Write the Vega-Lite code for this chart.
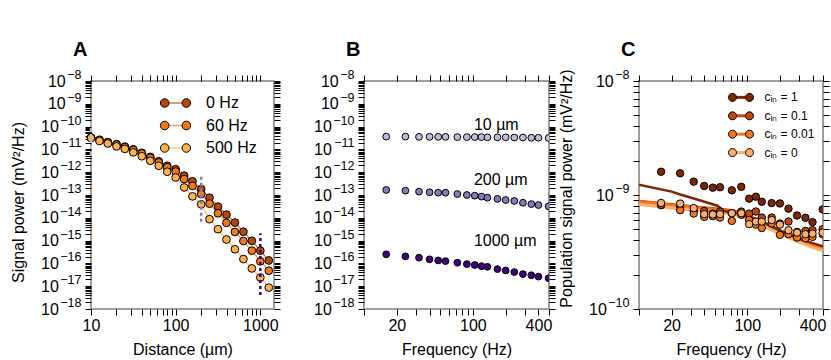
{
"$schema": "https://vega.github.io/schema/vega-lite/v6.json",
"padding": {"left": 9, "top": 38, "right": 5, "bottom": 0},
"spacing": 90,
"bounds": "flush",
"config": {
 "font": "Liberation Sans",
 "view": {"stroke": "#7f7f7f", "strokeWidth": 1.5},
 "axis": {"domain": false, "grid": false, "tickSize": 6, "tickColor": "black", "tickWidth": 1, "labelFont": "Liberation Sans", "labelFontSize": 16, "labelColor": "black", "titleFont": "Liberation Sans", "titleFontSize": 16, "titleFontWeight": "normal", "titleColor": "black", "labelFlush": false, "labelOverlap": false, "labelBound": false},
 "legend": {"padding": 0, "offset": 0, "labelFont": "Liberation Sans", "labelColor": "black"}
},
"resolve": {"scale": {"x": "independent", "y": "independent", "fill": "independent", "stroke": "independent", "color": "independent"}, "legend": {"fill": "independent", "stroke": "independent"}},
"datasets": {
 "aPts": [
  {"d":10,"s":"0 Hz","p":3.31e-11},{"d":12.6,"s":"0 Hz","p":2.63e-11},{"d":15.8,"s":"0 Hz","p":2.09e-11},{"d":20,"s":"0 Hz","p":1.70e-11},{"d":25.1,"s":"0 Hz","p":1.32e-11},{"d":31.6,"s":"0 Hz","p":1.0e-11},{"d":39.8,"s":"0 Hz","p":7.08e-12},{"d":50.1,"s":"0 Hz","p":4.68e-12},{"d":63.1,"s":"0 Hz","p":3.02e-12},{"d":79.4,"s":"0 Hz","p":1.91e-12},{"d":100,"s":"0 Hz","p":1.35e-12},{"d":126,"s":"0 Hz","p":7.08e-13},{"d":158,"s":"0 Hz","p":3.98e-13},{"d":200,"s":"0 Hz","p":1.82e-13},{"d":251,"s":"0 Hz","p":7.59e-14},{"d":316,"s":"0 Hz","p":3.09e-14},{"d":398,"s":"0 Hz","p":1.38e-14},{"d":501,"s":"0 Hz","p":6.17e-15},{"d":631,"s":"0 Hz","p":2.45e-15},{"d":794,"s":"0 Hz","p":9.77e-16},{"d":1000,"s":"0 Hz","p":3.63e-16},{"d":1259,"s":"0 Hz","p":1.35e-16},
  {"d":10,"s":"60 Hz","p":3.31e-11},{"d":12.6,"s":"60 Hz","p":2.57e-11},{"d":15.8,"s":"60 Hz","p":2.04e-11},{"d":20,"s":"60 Hz","p":1.62e-11},{"d":25.1,"s":"60 Hz","p":1.26e-11},{"d":31.6,"s":"60 Hz","p":9.55e-12},{"d":39.8,"s":"60 Hz","p":6.61e-12},{"d":50.1,"s":"60 Hz","p":4.27e-12},{"d":63.1,"s":"60 Hz","p":2.69e-12},{"d":79.4,"s":"60 Hz","p":1.66e-12},{"d":100,"s":"60 Hz","p":1.07e-12},{"d":126,"s":"60 Hz","p":5.01e-13},{"d":158,"s":"60 Hz","p":2.51e-13},{"d":200,"s":"60 Hz","p":1.10e-13},{"d":251,"s":"60 Hz","p":4.17e-14},{"d":316,"s":"60 Hz","p":1.58e-14},{"d":398,"s":"60 Hz","p":6.03e-15},{"d":501,"s":"60 Hz","p":2.40e-15},{"d":631,"s":"60 Hz","p":9.55e-16},{"d":794,"s":"60 Hz","p":3.63e-16},{"d":1000,"s":"60 Hz","p":1.23e-16},{"d":1259,"s":"60 Hz","p":4.79e-17},
  {"d":10,"s":"500 Hz","p":3.16e-11},{"d":12.6,"s":"500 Hz","p":2.34e-11},{"d":15.8,"s":"500 Hz","p":1.82e-11},{"d":20,"s":"500 Hz","p":1.35e-11},{"d":25.1,"s":"500 Hz","p":1.05e-11},{"d":31.6,"s":"500 Hz","p":7.41e-12},{"d":39.8,"s":"500 Hz","p":5.01e-12},{"d":50.1,"s":"500 Hz","p":3.16e-12},{"d":63.1,"s":"500 Hz","p":1.91e-12},{"d":79.4,"s":"500 Hz","p":1.05e-12},{"d":100,"s":"500 Hz","p":5.89e-13},{"d":126,"s":"500 Hz","p":2.14e-13},{"d":158,"s":"500 Hz","p":8.71e-14},{"d":200,"s":"500 Hz","p":3.89e-14},{"d":251,"s":"500 Hz","p":8.71e-15},{"d":316,"s":"500 Hz","p":3.16e-15},{"d":398,"s":"500 Hz","p":1.12e-15},{"d":501,"s":"500 Hz","p":4.17e-16},{"d":631,"s":"500 Hz","p":1.55e-16},{"d":794,"s":"500 Hz","p":6.03e-17},{"d":1000,"s":"500 Hz","p":2.40e-17},{"d":1259,"s":"500 Hz","p":8.71e-18}
 ],
 "aRules": [
  {"d":10,"lo":5.75e-12,"hi":2.0e-10,"g":"10 µm"},
  {"d":200,"lo":6.76e-15,"hi":7.08e-13,"g":"200 µm"},
  {"d":1000,"lo":4.07e-18,"hi":2.09e-15,"g":"1000 µm"}
 ],
 "bPts": [
  {"f":16,"dist":"10 µm","p":3.63e-11},{"f":24,"dist":"10 µm","p":3.63e-11},{"f":32,"dist":"10 µm","p":3.55e-11},{"f":40,"dist":"10 µm","p":3.55e-11},{"f":48,"dist":"10 µm","p":3.55e-11},{"f":56,"dist":"10 µm","p":3.55e-11},{"f":72,"dist":"10 µm","p":3.47e-11},{"f":88,"dist":"10 µm","p":3.47e-11},{"f":104,"dist":"10 µm","p":3.47e-11},{"f":120,"dist":"10 µm","p":3.47e-11},{"f":136,"dist":"10 µm","p":3.39e-11},{"f":168,"dist":"10 µm","p":3.39e-11},{"f":200,"dist":"10 µm","p":3.39e-11},{"f":240,"dist":"10 µm","p":3.31e-11},{"f":288,"dist":"10 µm","p":3.31e-11},{"f":344,"dist":"10 µm","p":3.24e-11},{"f":400,"dist":"10 µm","p":3.24e-11},{"f":496,"dist":"10 µm","p":3.16e-11},
  {"f":16,"dist":"200 µm","p":1.66e-13},{"f":24,"dist":"200 µm","p":1.55e-13},{"f":32,"dist":"200 µm","p":1.41e-13},{"f":40,"dist":"200 µm","p":1.32e-13},{"f":48,"dist":"200 µm","p":1.26e-13},{"f":56,"dist":"200 µm","p":1.26e-13},{"f":72,"dist":"200 µm","p":1.10e-13},{"f":88,"dist":"200 µm","p":1.0e-13},{"f":104,"dist":"200 µm","p":9.33e-14},{"f":120,"dist":"200 µm","p":8.51e-14},{"f":136,"dist":"200 µm","p":7.59e-14},{"f":168,"dist":"200 µm","p":6.76e-14},{"f":200,"dist":"200 µm","p":6.03e-14},{"f":240,"dist":"200 µm","p":5.50e-14},{"f":288,"dist":"200 µm","p":4.57e-14},{"f":344,"dist":"200 µm","p":3.98e-14},{"f":400,"dist":"200 µm","p":3.63e-14},{"f":496,"dist":"200 µm","p":3.16e-14},
  {"f":16,"dist":"1000 µm","p":2.51e-16},{"f":24,"dist":"1000 µm","p":2.04e-16},{"f":32,"dist":"1000 µm","p":1.78e-16},{"f":40,"dist":"1000 µm","p":1.51e-16},{"f":48,"dist":"1000 µm","p":1.35e-16},{"f":56,"dist":"1000 µm","p":1.26e-16},{"f":72,"dist":"1000 µm","p":1.07e-16},{"f":88,"dist":"1000 µm","p":9.33e-17},{"f":104,"dist":"1000 µm","p":8.51e-17},{"f":120,"dist":"1000 µm","p":7.59e-17},{"f":136,"dist":"1000 µm","p":7.08e-17},{"f":168,"dist":"1000 µm","p":5.62e-17},{"f":200,"dist":"1000 µm","p":4.90e-17},{"f":240,"dist":"1000 µm","p":4.17e-17},{"f":288,"dist":"1000 µm","p":3.39e-17},{"f":344,"dist":"1000 µm","p":3.02e-17},{"f":400,"dist":"1000 µm","p":2.63e-17},{"f":496,"dist":"1000 µm","p":2.24e-17}
 ],
 "bLab": [
  {"f":100,"p":1.12e-10,"t":"10 µm"},
  {"f":100,"p":4.57e-13,"t":"200 µm"},
  {"f":100,"p":9.33e-16,"t":"1000 µm"}
 ],
 "cPts": [
  {"f":16,"c":"1","p":1.60e-9},{"f":24,"c":"1","p":1.55e-9},{"f":32,"c":"1","p":1.31e-9},{"f":40,"c":"1","p":1.20e-9},{"f":48,"c":"1","p":1.16e-9},{"f":56,"c":"1","p":1.17e-9},{"f":72,"c":"1","p":1.10e-9},{"f":88,"c":"1","p":1.18e-9},{"f":104,"c":"1","p":9.29e-10},{"f":120,"c":"1","p":9.66e-10},{"f":136,"c":"1","p":8.73e-10},{"f":168,"c":"1","p":8.49e-10},{"f":200,"c":"1","p":8.43e-10},{"f":240,"c":"1","p":7.59e-10},{"f":288,"c":"1","p":6.61e-10},{"f":344,"c":"1","p":6.31e-10},{"f":400,"c":"1","p":5.78e-10},{"f":496,"c":"1","p":7.48e-10},
  {"f":16,"c":"0.1","p":8.13e-10},{"f":24,"c":"0.1","p":7.87e-10},{"f":32,"c":"0.1","p":7.24e-10},{"f":40,"c":"0.1","p":7.24e-10},{"f":48,"c":"0.1","p":6.87e-10},{"f":56,"c":"0.1","p":7.16e-10},{"f":72,"c":"0.1","p":6.93e-10},{"f":88,"c":"0.1","p":7.16e-10},{"f":104,"c":"0.1","p":6.87e-10},{"f":120,"c":"0.1","p":7.16e-10},{"f":136,"c":"0.1","p":6.34e-10},{"f":168,"c":"0.1","p":6.34e-10},{"f":200,"c":"0.1","p":5.62e-10},{"f":240,"c":"0.1","p":5.85e-10},{"f":288,"c":"0.1","p":4.74e-10},{"f":344,"c":"0.1","p":4.84e-10},{"f":400,"c":"0.1","p":4.91e-10},{"f":496,"c":"0.1","p":5.01e-10},
  {"f":16,"c":"0.01","p":8.22e-10},{"f":24,"c":"0.01","p":7.36e-10},{"f":32,"c":"0.01","p":6.87e-10},{"f":40,"c":"0.01","p":6.43e-10},{"f":48,"c":"0.01","p":6.52e-10},{"f":56,"c":"0.01","p":6.34e-10},{"f":72,"c":"0.01","p":5.93e-10},{"f":88,"c":"0.01","p":6.70e-10},{"f":104,"c":"0.01","p":6.03e-10},{"f":120,"c":"0.01","p":5.50e-10},{"f":136,"c":"0.01","p":5.13e-10},{"f":168,"c":"0.01","p":5.62e-10},{"f":200,"c":"0.01","p":4.47e-10},{"f":240,"c":"0.01","p":4.53e-10},{"f":288,"c":"0.01","p":4.23e-10},{"f":344,"c":"0.01","p":4.17e-10},{"f":400,"c":"0.01","p":4.29e-10},{"f":496,"c":"0.01","p":4.53e-10},
  {"f":16,"c":"0","p":8.51e-10},{"f":24,"c":"0","p":8.41e-10},{"f":32,"c":"0","p":7.67e-10},{"f":40,"c":"0","p":6.79e-10},{"f":48,"c":"0","p":6.76e-10},{"f":56,"c":"0","p":6.79e-10},{"f":72,"c":"0","p":6.92e-10},{"f":88,"c":"0","p":6.92e-10},{"f":104,"c":"0","p":5.55e-10},{"f":120,"c":"0","p":5.85e-10},{"f":136,"c":"0","p":5.85e-10},{"f":168,"c":"0","p":6.03e-10},{"f":200,"c":"0","p":5.50e-10},{"f":240,"c":"0","p":4.91e-10},{"f":288,"c":"0","p":4.68e-10},{"f":344,"c":"0","p":4.53e-10},{"f":400,"c":"0","p":4.58e-10},{"f":496,"c":"0","p":4.68e-10}
 ],
 "cLines": [
  {"f":10,"c":"1","p":1.23e-9},{"f":20,"c":"1","p":1.07e-9},{"f":24,"c":"1","p":1.01e-9},{"f":32,"c":"1","p":9.33e-10},{"f":53,"c":"1","p":8.05e-10},{"f":61,"c":"1","p":7.24e-10},{"f":80,"c":"1","p":6.92e-10},{"f":130,"c":"1","p":5.93e-10},{"f":200,"c":"1","p":4.90e-10},{"f":300,"c":"1","p":4.12e-10},{"f":460,"c":"1","p":3.63e-10},{"f":500,"c":"1","p":3.55e-10},
  {"f":10,"c":"0.1","p":8.87e-10},{"f":20,"c":"0.1","p":8.28e-10},{"f":32,"c":"0.1","p":7.91e-10},{"f":50,"c":"0.1","p":7.63e-10},{"f":68,"c":"0.1","p":7.38e-10},{"f":80,"c":"0.1","p":7.21e-10},{"f":138,"c":"0.1","p":5.86e-10},{"f":197,"c":"0.1","p":4.93e-10},{"f":278,"c":"0.1","p":4.30e-10},{"f":396,"c":"0.1","p":3.74e-10},{"f":500,"c":"0.1","p":3.49e-10},
  {"f":10,"c":"0.01","p":8.75e-10},{"f":20,"c":"0.01","p":8.17e-10},{"f":32,"c":"0.01","p":7.80e-10},{"f":50,"c":"0.01","p":7.53e-10},{"f":68,"c":"0.01","p":7.28e-10},{"f":80,"c":"0.01","p":7.11e-10},{"f":138,"c":"0.01","p":5.78e-10},{"f":197,"c":"0.01","p":4.86e-10},{"f":278,"c":"0.01","p":4.24e-10},{"f":396,"c":"0.01","p":3.69e-10},{"f":500,"c":"0.01","p":3.44e-10},
  {"f":10,"c":"0","p":8.51e-10},{"f":20,"c":"0","p":7.94e-10},{"f":32,"c":"0","p":7.59e-10},{"f":50,"c":"0","p":7.33e-10},{"f":68,"c":"0","p":7.08e-10},{"f":80,"c":"0","p":6.92e-10},{"f":138,"c":"0","p":5.62e-10},{"f":197,"c":"0","p":4.73e-10},{"f":278,"c":"0","p":4.12e-10},{"f":396,"c":"0","p":3.59e-10},{"f":500,"c":"0","p":3.35e-10}
 ]
},
"hconcat": [
 {
  "width": 183, "height": 228,
  "title": {"text": "A", "anchor": "start", "frame": "group", "fontSize": 20, "fontWeight": "bold", "font": "Liberation Sans", "dx": -18, "baseline": "alphabetic", "offset": -7, "color": "black"},
  "resolve": {"axis": {"x": "independent", "y": "independent"}},
  "layer": [
   {
    "data": {"name": "aPts"},
    "mark": {"type": "line", "strokeWidth": 1.5, "opacity": 0.7},
    "encoding": {
     "x": {"field": "d", "type": "quantitative", "scale": {"type": "log", "domain": [10, 1450], "nice": false},
      "axis": {"orient": "bottom", "values": [10,20,30,40,50,60,70,80,90,100,200,300,400,500,600,700,800,900,1000], "labelExpr": "indexof([10,100,1000], datum.value) >= 0 ? '' + datum.value : ''", "labelBaseline": "alphabetic", "labelPadding": 15, "title": "Distance (µm)", "titleBaseline": "alphabetic", "titleY": 45,
       "encode": {"ticks": {"update": {"y2": {"signal": "abs(log(datum.value)/LN10 - round(log(datum.value)/LN10)) < 0.001 ? -6 : -3"}}}}}},
     "y": {"field": "p", "type": "quantitative", "scale": {"type": "log", "domain": [1e-18, 1e-8], "nice": false},
      "axis": {"orient": "left", "values": [1e-18,2e-18,3e-18,4e-18,5e-18,6e-18,7e-18,8e-18,9e-18,1e-17,2e-17,3e-17,4e-17,5e-17,6e-17,7e-17,8e-17,9e-17,1e-16,2e-16,3e-16,4e-16,5e-16,6e-16,7e-16,8e-16,9e-16,1e-15,2e-15,3e-15,4e-15,5e-15,6e-15,7e-15,8e-15,9e-15,1e-14,2e-14,3e-14,4e-14,5e-14,6e-14,7e-14,8e-14,9e-14,1e-13,2e-13,3e-13,4e-13,5e-13,6e-13,7e-13,8e-13,9e-13,1e-12,2e-12,3e-12,4e-12,5e-12,6e-12,7e-12,8e-12,9e-12,1e-11,2e-11,3e-11,4e-11,5e-11,6e-11,7e-11,8e-11,9e-11,1e-10,2e-10,3e-10,4e-10,5e-10,6e-10,7e-10,8e-10,9e-10,1e-9,2e-9,3e-9,4e-9,5e-9,6e-9,7e-9,8e-9,9e-9,1e-8],
       "labelExpr": "abs(log(datum.value)/LN10 - round(log(datum.value)/LN10)) < 0.001 && round(-log(datum.value)/LN10) >= 10 ? '10' : ''",
       "labelPadding": 26.7, "labelBaseline": "middle", "title": "Signal power (mV²/Hz)", "titleX": -73, "titleY": 121, "titleBaseline": "middle",
       "encode": {"ticks": {"update": {"x2": {"signal": "abs(log(datum.value)/LN10 - round(log(datum.value)/LN10)) < 0.001 ? 6 : 3"}}}}}},
     "stroke": {"field": "s", "type": "nominal", "scale": {"domain": ["0 Hz", "60 Hz", "500 Hz"], "range": ["#b5470b", "#f07a1c", "#fdb24a"]},
      "legend": {"orient": "none", "legendX": 76.5, "legendY": 14, "title": null, "symbolType": "M -1.31,0 L 1.31,0", "symbolSize": 100, "symbolStrokeWidth": 1.5, "labelFontSize": 16, "labelOffset": 22.5, "rowPadding": 6.5}}
    }
   },
   {
    "data": {"name": "aPts"},
    "mark": {"type": "circle", "size": 60, "stroke": "black", "strokeWidth": 1, "opacity": 1},
    "encoding": {
     "x": {"field": "d", "type": "quantitative", "scale": {"type": "log", "domain": [10, 1450], "nice": false},
      "axis": {"orient": "top", "values": [10,20,30,40,50,60,70,80,90,100,200,300,400,500,600,700,800,900,1000], "labels": false, "title": null,
       "encode": {"ticks": {"update": {"y2": {"signal": "abs(log(datum.value)/LN10 - round(log(datum.value)/LN10)) < 0.001 ? 6 : 3"}}}}}},
     "y": {"field": "p", "type": "quantitative", "scale": {"type": "log", "domain": [1e-18, 1e-8], "nice": false},
      "axis": {"orient": "right", "values": [1e-18,2e-18,3e-18,4e-18,5e-18,6e-18,7e-18,8e-18,9e-18,1e-17,2e-17,3e-17,4e-17,5e-17,6e-17,7e-17,8e-17,9e-17,1e-16,2e-16,3e-16,4e-16,5e-16,6e-16,7e-16,8e-16,9e-16,1e-15,2e-15,3e-15,4e-15,5e-15,6e-15,7e-15,8e-15,9e-15,1e-14,2e-14,3e-14,4e-14,5e-14,6e-14,7e-14,8e-14,9e-14,1e-13,2e-13,3e-13,4e-13,5e-13,6e-13,7e-13,8e-13,9e-13,1e-12,2e-12,3e-12,4e-12,5e-12,6e-12,7e-12,8e-12,9e-12,1e-11,2e-11,3e-11,4e-11,5e-11,6e-11,7e-11,8e-11,9e-11,1e-10,2e-10,3e-10,4e-10,5e-10,6e-10,7e-10,8e-10,9e-10,1e-9,2e-9,3e-9,4e-9,5e-9,6e-9,7e-9,8e-9,9e-9,1e-8], "labels": false, "title": null,
       "encode": {"ticks": {"update": {"x2": {"signal": "abs(log(datum.value)/LN10 - round(log(datum.value)/LN10)) < 0.001 ? -6 : -3"}}}}}},
     "fill": {"field": "s", "type": "nominal", "sort": ["0 Hz", "60 Hz", "500 Hz"], "scale": {"range": ["#b5470b", "#f07a1c", "#fdb24a"]},
      "legend": {"orient": "none", "legendX": 76.5, "legendY": 14, "title": null, "symbolType": "M -3.03,0 A 0.86,0.86 0 1,1 -1.31,0 A 0.86,0.86 0 1,1 -3.03,0 Z M 1.31,0 A 0.86,0.86 0 1,1 3.03,0 A 0.86,0.86 0 1,1 1.31,0 Z", "symbolSize": 100, "symbolStrokeColor": "black", "symbolStrokeWidth": 1, "symbolOpacity": 1, "labelFontSize": 16, "labelOffset": 22.5, "rowPadding": 6.5, "labelOpacity": 0}}
    }
   },
   {
    "data": {"name": "aRules"},
    "transform": [{"filter": "datum.d != 1000"}],
    "mark": {"type": "rule", "strokeDash": [3, 3], "strokeWidth": 2.5},
    "encoding": {
     "x": {"field": "d", "type": "quantitative", "scale": {"type": "log", "domain": [10, 1450], "nice": false}, "axis": null},
     "y": {"field": "lo", "type": "quantitative", "scale": {"type": "log", "domain": [1e-18, 1e-8], "nice": false},
      "axis": {"orient": "left", "values": [1e-18,1e-17,1e-16,1e-15,1e-14,1e-13,1e-12,1e-11,1e-10,1e-9,1e-8], "labelExpr": "'−' + round(-log(datum.value)/LN10)", "labelFontSize": 12.5, "labelPadding": 4, "labelOffset": -6.5, "labelBaseline": "middle", "tickOpacity": 0, "title": null}},
     "y2": {"field": "hi"},
     "color": {"field": "g", "type": "nominal", "scale": {"domain": ["10 µm", "200 µm", "1000 µm"], "range": ["#bcbddc", "#807dba", "#3f007d"]}, "legend": null}
    }
   },
   {
    "data": {"name": "aRules"},
    "transform": [{"filter": "datum.d == 1000"}],
    "mark": {"type": "rule", "strokeDash": [3, 3], "strokeWidth": 2.5},
    "encoding": {
     "x": {"field": "d", "type": "quantitative", "scale": {"type": "log", "domain": [10, 1450], "nice": false}, "axis": null},
     "y": {"field": "lo", "type": "quantitative", "scale": {"type": "log", "domain": [1e-18, 1e-8], "nice": false},
      "axis": {"orient": "left", "values": [1e-9, 1e-8], "labelExpr": "'10'", "labelPadding": 19.75, "labelBaseline": "middle", "tickOpacity": 0, "title": null}},
     "y2": {"field": "hi"},
     "color": {"field": "g", "type": "nominal", "scale": {"domain": ["10 µm", "200 µm", "1000 µm"], "range": ["#bcbddc", "#807dba", "#3f007d"]}, "legend": null}
    }
   }
  ]
 },
 {
  "width": 185, "height": 228,
  "title": {"text": "B", "anchor": "start", "frame": "group", "fontSize": 20, "fontWeight": "bold", "font": "Liberation Sans", "dx": -18, "baseline": "alphabetic", "offset": -7, "color": "black"},
  "resolve": {"axis": {"x": "independent", "y": "independent"}},
  "layer": [
   {
    "data": {"name": "bPts"},
    "transform": [{"filter": "datum.dist != '1000 µm'"}],
    "mark": {"type": "circle", "size": 46, "stroke": "black", "strokeWidth": 1, "opacity": 1, "clip": true},
    "encoding": {
     "x": {"field": "f", "type": "quantitative", "scale": {"type": "log", "domain": [10, 500], "nice": false},
      "axis": {"orient": "bottom", "values": [10,20,30,40,50,60,70,80,90,100,200,300,400,500], "labelExpr": "indexof([20,100,400], datum.value) >= 0 ? '' + datum.value : ''", "labelBaseline": "alphabetic", "labelPadding": 15, "title": "Frequency (Hz)", "titleBaseline": "alphabetic", "titleY": 45,
       "encode": {"ticks": {"update": {"y2": {"signal": "abs(log(datum.value)/LN10 - round(log(datum.value)/LN10)) < 0.001 ? -6 : -3"}}}}}},
     "y": {"field": "p", "type": "quantitative", "scale": {"type": "log", "domain": [1e-18, 1e-8], "nice": false},
      "axis": {"orient": "left", "values": [1e-18,2e-18,3e-18,4e-18,5e-18,6e-18,7e-18,8e-18,9e-18,1e-17,2e-17,3e-17,4e-17,5e-17,6e-17,7e-17,8e-17,9e-17,1e-16,2e-16,3e-16,4e-16,5e-16,6e-16,7e-16,8e-16,9e-16,1e-15,2e-15,3e-15,4e-15,5e-15,6e-15,7e-15,8e-15,9e-15,1e-14,2e-14,3e-14,4e-14,5e-14,6e-14,7e-14,8e-14,9e-14,1e-13,2e-13,3e-13,4e-13,5e-13,6e-13,7e-13,8e-13,9e-13,1e-12,2e-12,3e-12,4e-12,5e-12,6e-12,7e-12,8e-12,9e-12,1e-11,2e-11,3e-11,4e-11,5e-11,6e-11,7e-11,8e-11,9e-11,1e-10,2e-10,3e-10,4e-10,5e-10,6e-10,7e-10,8e-10,9e-10,1e-9,2e-9,3e-9,4e-9,5e-9,6e-9,7e-9,8e-9,9e-9,1e-8],
       "labelExpr": "abs(log(datum.value)/LN10 - round(log(datum.value)/LN10)) < 0.001 && round(-log(datum.value)/LN10) >= 10 ? '10' : ''",
       "labelPadding": 26.7, "labelBaseline": "middle", "title": null,
       "encode": {"ticks": {"update": {"x2": {"signal": "abs(log(datum.value)/LN10 - round(log(datum.value)/LN10)) < 0.001 ? 6 : 3"}}}}}},
     "fill": {"field": "dist", "type": "nominal", "scale": {"domain": ["10 µm", "200 µm", "1000 µm"], "range": ["#bcbddc", "#807dba", "#3f007d"]}, "legend": null}
    }
   },
   {
    "data": {"name": "bPts"},
    "transform": [{"filter": "datum.dist == '1000 µm'"}],
    "mark": {"type": "circle", "size": 46, "stroke": "black", "strokeWidth": 1, "opacity": 1, "clip": true},
    "encoding": {
     "x": {"field": "f", "type": "quantitative", "scale": {"type": "log", "domain": [10, 500], "nice": false}, "axis": null},
     "y": {"field": "p", "type": "quantitative", "scale": {"type": "log", "domain": [1e-18, 1e-8], "nice": false},
      "axis": {"orient": "left", "values": [1e-18,1e-17,1e-16,1e-15,1e-14,1e-13,1e-12,1e-11,1e-10,1e-9,1e-8], "labelExpr": "'−' + round(-log(datum.value)/LN10)", "labelFontSize": 12.5, "labelPadding": 4, "labelOffset": -6.5, "labelBaseline": "middle", "tickOpacity": 0, "title": null}},
     "fill": {"field": "dist", "type": "nominal", "scale": {"domain": ["10 µm", "200 µm", "1000 µm"], "range": ["#bcbddc", "#807dba", "#3f007d"]}, "legend": null}
    }
   },
   {
    "data": {"name": "bLab"},
    "transform": [{"filter": "datum.t == '10 µm'"}],
    "mark": {"type": "text", "align": "left", "baseline": "middle", "fontSize": 16, "font": "Liberation Sans", "color": "black", "dx": 1},
    "encoding": {
     "x": {"field": "f", "type": "quantitative", "scale": {"type": "log", "domain": [10, 500], "nice": false},
      "axis": {"orient": "top", "values": [10,20,30,40,50,60,70,80,90,100,200,300,400,500], "labels": false, "title": null,
       "encode": {"ticks": {"update": {"y2": {"signal": "abs(log(datum.value)/LN10 - round(log(datum.value)/LN10)) < 0.001 ? 6 : 3"}}}}}},
     "y": {"field": "p", "type": "quantitative", "scale": {"type": "log", "domain": [1e-18, 1e-8], "nice": false},
      "axis": {"orient": "right", "values": [1e-18,2e-18,3e-18,4e-18,5e-18,6e-18,7e-18,8e-18,9e-18,1e-17,2e-17,3e-17,4e-17,5e-17,6e-17,7e-17,8e-17,9e-17,1e-16,2e-16,3e-16,4e-16,5e-16,6e-16,7e-16,8e-16,9e-16,1e-15,2e-15,3e-15,4e-15,5e-15,6e-15,7e-15,8e-15,9e-15,1e-14,2e-14,3e-14,4e-14,5e-14,6e-14,7e-14,8e-14,9e-14,1e-13,2e-13,3e-13,4e-13,5e-13,6e-13,7e-13,8e-13,9e-13,1e-12,2e-12,3e-12,4e-12,5e-12,6e-12,7e-12,8e-12,9e-12,1e-11,2e-11,3e-11,4e-11,5e-11,6e-11,7e-11,8e-11,9e-11,1e-10,2e-10,3e-10,4e-10,5e-10,6e-10,7e-10,8e-10,9e-10,1e-9,2e-9,3e-9,4e-9,5e-9,6e-9,7e-9,8e-9,9e-9,1e-8], "labels": false, "title": null,
       "encode": {"ticks": {"update": {"x2": {"signal": "abs(log(datum.value)/LN10 - round(log(datum.value)/LN10)) < 0.001 ? -6 : -3"}}}}}},
     "text": {"field": "t"}
    }
   },
   {
    "data": {"name": "bLab"},
    "transform": [{"filter": "datum.t != '10 µm'"}],
    "mark": {"type": "text", "align": "left", "baseline": "middle", "fontSize": 16, "font": "Liberation Sans", "color": "black", "dx": 1},
    "encoding": {
     "x": {"field": "f", "type": "quantitative", "scale": {"type": "log", "domain": [10, 500], "nice": false}, "axis": null},
     "y": {"field": "p", "type": "quantitative", "scale": {"type": "log", "domain": [1e-18, 1e-8], "nice": false},
      "axis": {"orient": "left", "values": [1e-9, 1e-8], "labelExpr": "'10'", "labelPadding": 19.75, "labelBaseline": "middle", "tickOpacity": 0, "title": null}},
     "text": {"field": "t"}
    }
   }
  ]
 },
 {
  "width": 184, "height": 228,
  "title": {"text": "C", "anchor": "start", "frame": "group", "fontSize": 20, "fontWeight": "bold", "font": "Liberation Sans", "dx": -18, "baseline": "alphabetic", "offset": -7, "color": "black"},
  "resolve": {"axis": {"x": "independent", "y": "independent"}},
  "layer": [
   {
    "data": {"name": "cLines"},
    "transform": [{"filter": "datum.c == '0'"}],
    "mark": {"type": "line", "strokeWidth": 6, "clip": true},
    "encoding": {
     "x": {"field": "f", "type": "quantitative", "scale": {"type": "log", "domain": [10, 500], "nice": false},
      "axis": {"orient": "bottom", "values": [10,20,30,40,50,60,70,80,90,100,200,300,400,500], "labelExpr": "indexof([20,100,400], datum.value) >= 0 ? '' + datum.value : ''", "labelBaseline": "alphabetic", "labelPadding": 15, "title": "Frequency (Hz)", "titleBaseline": "alphabetic", "titleY": 45,
       "encode": {"ticks": {"update": {"y2": {"signal": "abs(log(datum.value)/LN10 - round(log(datum.value)/LN10)) < 0.001 ? -6 : -3"}}}}}},
     "y": {"field": "p", "type": "quantitative", "scale": {"type": "log", "domain": [1e-10, 1e-8], "nice": false},
      "axis": {"orient": "left", "values": [1e-10,2e-10,3e-10,4e-10,5e-10,6e-10,7e-10,8e-10,9e-10,1e-9,2e-9,3e-9,4e-9,5e-9,6e-9,7e-9,8e-9,9e-9,1e-8],
       "labelExpr": "abs(log(datum.value)/LN10 - round(log(datum.value)/LN10)) < 0.001 && round(-log(datum.value)/LN10) >= 10 ? '10' : ''",
       "labelPadding": 26.7, "labelBaseline": "middle", "title": "Population signal power (mV²/Hz)", "titleX": -73, "titleY": 107, "titleBaseline": "middle",
       "encode": {"ticks": {"update": {"x2": {"signal": "abs(log(datum.value)/LN10 - round(log(datum.value)/LN10)) < 0.001 ? 6 : 3"}}}}}},
     "stroke": {"field": "c", "type": "nominal", "scale": {"domain": ["1", "0.1", "0.01", "0"], "range": ["#7f2704", "#c2470a", "#f3761b", "#fdae6b"]},
      "legend": {"orient": "none", "legendX": 96, "legendY": 10.4, "title": null, "symbolType": "M -1.125,0 L 1.125,0", "symbolSize": 64, "symbolStrokeWidth": 3, "labelFontSize": 12, "labelOffset": 17.4, "rowPadding": 6.4, "labelExpr": "'cᵢₙ = ' + datum.label"}}
    }
   },
   {
    "data": {"name": "cLines"},
    "transform": [{"filter": "datum.c == '0.1' || datum.c == '0.01'"}],
    "mark": {"type": "line", "strokeWidth": 2.5, "clip": true},
    "encoding": {
     "x": {"field": "f", "type": "quantitative", "scale": {"type": "log", "domain": [10, 500], "nice": false}, "axis": null},
     "y": {"field": "p", "type": "quantitative", "scale": {"type": "log", "domain": [1e-10, 1e-8], "nice": false},
      "axis": {"orient": "left", "values": [1e-9, 1e-8], "labelExpr": "'10'", "labelPadding": 19.75, "labelBaseline": "middle", "tickOpacity": 0, "title": null}},
     "stroke": {"field": "c", "type": "nominal", "scale": {"domain": ["1", "0.1", "0.01", "0"], "range": ["#7f2704", "#c2470a", "#f3761b", "#fdae6b"]},
      "legend": {"orient": "none", "legendX": 96, "legendY": 10.4, "title": null, "symbolType": "M -1.125,0 L 1.125,0", "symbolSize": 64, "symbolStrokeWidth": 3, "labelFontSize": 12, "labelOffset": 17.4, "rowPadding": 6.4, "labelExpr": "'cᵢₙ = ' + datum.label"}}
    }
   },
   {
    "data": {"name": "cLines"},
    "transform": [{"filter": "datum.c == '1'"}],
    "mark": {"type": "line", "strokeWidth": 2.5, "clip": true},
    "encoding": {
     "x": {"field": "f", "type": "quantitative", "scale": {"type": "log", "domain": [10, 500], "nice": false}, "axis": null},
     "y": {"field": "p", "type": "quantitative", "scale": {"type": "log", "domain": [1e-10, 1e-8], "nice": false},
      "axis": {"orient": "left", "values": [1e-10,1e-9,1e-8], "labelExpr": "'−' + round(-log(datum.value)/LN10)", "labelFontSize": 12.5, "labelPadding": 4, "labelOffset": -6.5, "labelBaseline": "middle", "tickOpacity": 0, "title": null}},
     "stroke": {"field": "c", "type": "nominal", "scale": {"domain": ["1", "0.1", "0.01", "0"], "range": ["#7f2704", "#c2470a", "#f3761b", "#fdae6b"]},
      "legend": {"orient": "none", "legendX": 96, "legendY": 10.4, "title": null, "symbolType": "M -1.125,0 L 1.125,0", "symbolSize": 64, "symbolStrokeWidth": 3, "labelFontSize": 12, "labelOffset": 17.4, "rowPadding": 6.4, "labelExpr": "'cᵢₙ = ' + datum.label"}}
    }
   },
   {
    "data": {"name": "cPts"},
    "mark": {"type": "circle", "size": 55, "stroke": "black", "strokeWidth": 1, "opacity": 1, "clip": true},
    "encoding": {
     "x": {"field": "f", "type": "quantitative", "scale": {"type": "log", "domain": [10, 500], "nice": false},
      "axis": {"orient": "top", "values": [10,20,30,40,50,60,70,80,90,100,200,300,400,500], "labels": false, "title": null,
       "encode": {"ticks": {"update": {"y2": {"signal": "abs(log(datum.value)/LN10 - round(log(datum.value)/LN10)) < 0.001 ? 6 : 3"}}}}}},
     "y": {"field": "p", "type": "quantitative", "scale": {"type": "log", "domain": [1e-10, 1e-8], "nice": false},
      "axis": {"orient": "right", "values": [1e-10,2e-10,3e-10,4e-10,5e-10,6e-10,7e-10,8e-10,9e-10,1e-9,2e-9,3e-9,4e-9,5e-9,6e-9,7e-9,8e-9,9e-9,1e-8], "labels": false, "title": null,
       "encode": {"ticks": {"update": {"x2": {"signal": "abs(log(datum.value)/LN10 - round(log(datum.value)/LN10)) < 0.001 ? -6 : -3"}}}}}},
     "fill": {"field": "c", "type": "nominal", "sort": ["1", "0.1", "0.01", "0"], "scale": {"range": ["#7f2704", "#c2470a", "#f3761b", "#fdae6b"]},
      "legend": {"orient": "none", "legendX": 96, "legendY": 10.4, "title": null, "symbolType": "M -3.125,0 A 1,1 0 1,1 -1.125,0 A 1,1 0 1,1 -3.125,0 Z M 1.125,0 A 1,1 0 1,1 3.125,0 A 1,1 0 1,1 1.125,0 Z", "symbolSize": 64, "symbolStrokeColor": "black", "symbolStrokeWidth": 1, "symbolOpacity": 1, "labelFontSize": 12, "labelOffset": 17.4, "rowPadding": 6.4, "labelOpacity": 0, "labelExpr": "'cᵢₙ = ' + datum.label"}}
    }
   }
  ]
 }
]
}
